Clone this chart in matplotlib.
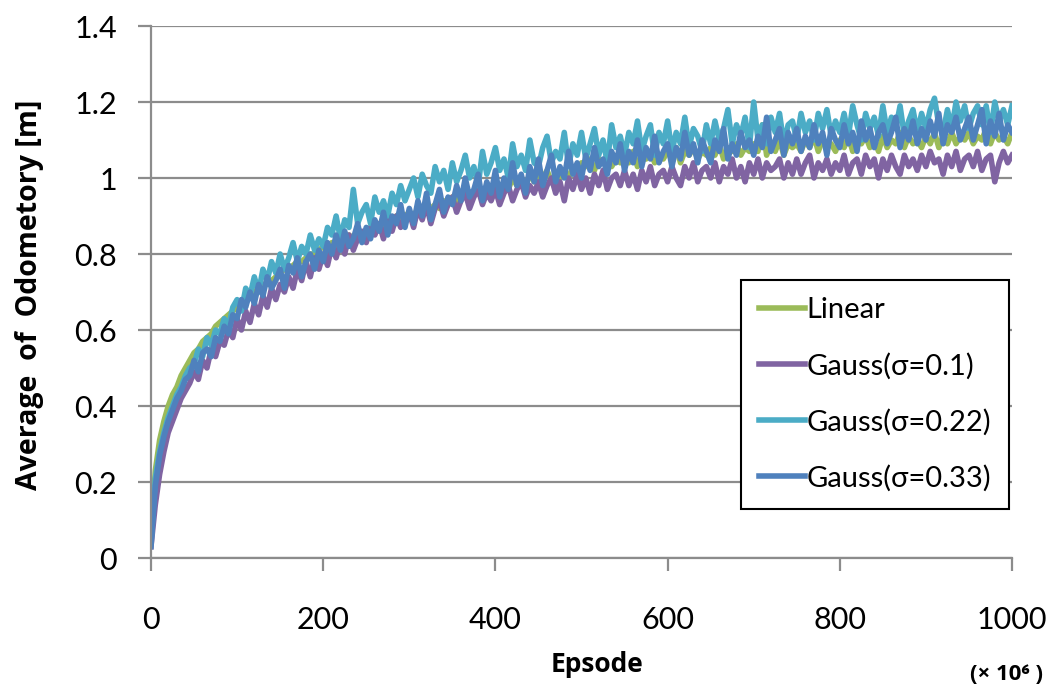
import matplotlib
matplotlib.use("Agg")
import matplotlib.pyplot as plt

plt.rcParams['font.family'] = ['Lato', 'DejaVu Sans']

episodes = list(range(0, 1001, 5))

linear = [
    0.05,0.23,0.31,0.36,0.40,0.43,0.45,0.48,0.50,0.52,
    0.54,0.55,0.57,0.58,0.59,0.61,0.62,0.63,0.64,0.65,
    0.66,0.67,0.68,0.69,0.70,0.71,0.72,0.72,0.73,0.74,
    0.75,0.76,0.76,0.77,0.78,0.78,0.79,0.80,0.80,0.81,
    0.82,0.81,0.83,0.82,0.84,0.83,0.85,0.84,0.86,0.85,
    0.86,0.87,0.86,0.88,0.87,0.89,0.88,0.90,0.89,0.90,
    0.91,0.90,0.92,0.91,0.93,0.92,0.93,0.92,0.94,0.93,
    0.95,0.94,0.95,0.96,0.94,0.96,0.97,0.95,0.97,0.96,
    0.98,0.97,0.99,0.97,1.00,0.98,1.00,0.98,1.01,0.99,
    1.01,1.00,1.02,0.99,1.01,1.00,1.02,1.00,1.03,1.01,
    1.04,1.03,1.05,1.02,1.05,1.04,1.06,1.03,1.05,1.04,
    1.06,1.04,1.07,1.03,1.06,1.05,1.07,1.04,1.06,1.05,
    1.07,1.05,1.08,1.04,1.07,1.06,1.08,1.05,1.07,1.06,
    1.08,1.06,1.09,1.05,1.08,1.07,1.09,1.06,1.08,1.07,
    1.09,1.07,1.14,1.06,1.09,1.07,1.10,1.06,1.09,1.08,
    1.09,1.07,1.10,1.08,1.11,1.07,1.10,1.08,1.09,1.07,
    1.10,1.08,1.11,1.07,1.10,1.09,1.11,1.08,1.10,1.07,
    1.11,1.08,1.10,1.09,1.12,1.08,1.11,1.09,1.10,1.08,
    1.11,1.09,1.12,1.08,1.11,1.09,1.12,1.09,1.11,1.10,
    1.12,1.09,1.11,1.10,1.13,1.09,1.12,1.10,1.11,1.09,
    1.12]

gauss_010 = [
    0.03,0.14,0.22,0.28,0.33,0.36,0.39,0.42,0.44,0.46,
    0.49,0.47,0.52,0.50,0.55,0.53,0.57,0.56,0.60,0.58,
    0.63,0.60,0.65,0.62,0.67,0.64,0.69,0.66,0.71,0.68,
    0.72,0.70,0.74,0.71,0.76,0.73,0.78,0.74,0.79,0.76,
    0.80,0.77,0.82,0.79,0.83,0.80,0.85,0.81,0.84,0.86,
    0.83,0.87,0.85,0.88,0.84,0.89,0.86,0.90,0.87,0.89,
    0.91,0.87,0.92,0.89,0.93,0.88,0.92,0.94,0.90,0.93,
    0.95,0.91,0.94,0.96,0.92,0.95,0.97,0.93,0.96,0.94,
    0.97,0.93,0.96,0.98,0.94,0.97,0.99,0.95,0.98,0.96,
    0.99,0.95,0.98,1.00,0.96,0.99,0.94,1.00,0.97,1.01,
    0.97,1.00,0.96,1.01,0.98,1.02,0.97,1.00,1.01,0.98,
    1.02,0.98,1.01,0.97,1.02,0.99,1.03,0.98,1.01,1.02,
    0.99,1.03,1.00,0.98,1.03,1.00,1.04,0.99,1.02,1.03,
    1.00,1.04,0.99,1.03,1.01,1.05,1.00,1.03,0.99,1.04,
    1.01,1.05,1.00,1.04,1.02,1.03,1.05,1.00,1.04,1.01,
    1.05,1.01,1.04,1.06,1.00,1.04,1.02,1.05,1.01,1.04,
    1.02,1.06,1.01,1.04,1.05,1.01,1.06,1.03,1.05,1.00,
    1.05,1.02,1.06,1.03,1.01,1.06,1.03,1.05,1.02,1.06,
    1.03,1.07,1.04,1.05,1.01,1.06,1.03,1.07,1.02,1.05,
    1.06,1.03,1.07,1.02,1.05,1.06,0.99,1.04,1.07,1.04,
    1.06]

gauss_022 = [
    0.04,0.21,0.28,0.33,0.37,0.40,0.43,0.45,0.48,0.50,
    0.51,0.55,0.53,0.58,0.56,0.60,0.59,0.63,0.61,0.66,
    0.68,0.65,0.71,0.69,0.74,0.70,0.76,0.73,0.78,0.75,
    0.80,0.76,0.79,0.83,0.78,0.82,0.80,0.85,0.81,0.84,
    0.82,0.87,0.85,0.90,0.84,0.89,0.87,0.97,0.88,0.91,
    0.93,0.88,0.95,0.91,0.94,0.90,0.96,0.93,0.98,0.94,
    0.97,1.00,0.95,1.01,0.98,0.96,1.03,0.99,1.02,0.97,
    1.04,0.99,1.02,1.06,1.00,1.03,0.98,1.07,1.01,1.04,
    1.08,1.02,1.05,1.00,1.09,1.03,1.06,1.02,1.10,1.04,
    1.03,1.08,1.11,1.04,1.07,1.05,1.12,1.03,1.09,1.06,
    1.12,1.05,1.09,1.13,1.06,1.10,1.04,1.14,1.08,1.11,
    1.06,1.12,1.09,1.15,1.07,1.11,1.14,1.06,1.12,1.09,
    1.15,1.07,1.12,1.09,1.16,1.08,1.13,1.11,1.07,1.14,
    1.09,1.15,1.10,1.13,1.18,1.09,1.14,1.11,1.16,1.08,
    1.20,1.10,1.14,1.09,1.16,1.12,1.17,1.09,1.14,1.15,
    1.10,1.17,1.12,1.15,1.10,1.17,1.13,1.18,1.11,1.15,
    1.12,1.17,1.11,1.19,1.14,1.10,1.17,1.13,1.16,1.11,
    1.19,1.12,1.16,1.13,1.19,1.11,1.15,1.18,1.12,1.17,
    1.13,1.18,1.21,1.14,1.12,1.18,1.13,1.20,1.15,1.19,
    1.13,1.17,1.19,1.14,1.19,1.12,1.20,1.15,1.18,1.14,
    1.19]

gauss_033 = [
    0.03,0.19,0.27,0.32,0.36,0.39,0.42,0.44,0.47,0.48,
    0.52,0.49,0.54,0.55,0.53,0.58,0.57,0.61,0.59,0.64,
    0.63,0.68,0.66,0.70,0.67,0.72,0.69,0.74,0.71,0.73,
    0.76,0.71,0.77,0.75,0.79,0.74,0.78,0.80,0.76,0.81,
    0.78,0.83,0.80,0.85,0.81,0.86,0.82,0.84,0.88,0.83,
    0.87,0.84,0.89,0.86,0.91,0.85,0.90,0.88,0.93,0.87,
    0.92,0.88,0.94,0.90,0.96,0.89,0.93,0.97,0.91,0.95,
    0.93,0.98,0.94,1.00,0.95,0.97,1.01,0.94,0.99,0.96,
    1.02,0.95,1.00,0.97,1.04,0.98,1.01,0.96,1.03,0.99,
    1.05,0.98,1.02,1.06,0.99,1.03,1.00,1.07,1.01,1.04,
    1.00,1.06,1.02,1.08,1.03,1.05,1.01,1.07,1.04,1.09,
    1.02,1.07,1.04,1.10,1.03,1.08,1.05,1.11,1.04,1.07,
    1.09,1.03,1.08,1.05,1.12,1.06,1.09,1.04,1.10,1.07,
    1.04,1.10,1.07,1.13,1.05,1.09,1.06,1.12,1.08,1.10,
    1.06,1.11,1.08,1.16,1.07,1.10,1.13,1.06,1.12,1.09,
    1.13,1.07,1.11,1.08,1.14,1.09,1.12,1.06,1.13,1.10,
    1.08,1.14,1.09,1.12,1.07,1.15,1.10,1.13,1.08,1.12,
    1.14,1.09,1.12,1.16,1.08,1.13,1.10,1.15,1.09,1.13,
    1.10,1.15,1.11,1.17,1.09,1.14,1.12,1.16,1.10,1.13,
    1.16,1.10,1.14,1.18,1.09,1.15,1.11,1.17,1.10,1.14,
    1.12]

series = [
    ("Linear", linear, "#9BBB59"),
    ("Gauss(σ=0.1)", gauss_010, "#8064A2"),
    ("Gauss(σ=0.22)", gauss_022, "#4BACC6"),
    ("Gauss(σ=0.33)", gauss_033, "#4F81BD"),
]

yticks = [0, 0.2, 0.4, 0.6, 0.8, 1.0, 1.2, 1.4]
yticklabels = ["0", "0.2", "0.4", "0.6", "0.8", "1", "1.2", "1.4"]
xticks = [0, 200, 400, 600, 800, 1000]

fig = plt.figure(figsize=(10.54, 6.92), dpi=100)
ax = fig.add_axes([151/1054, 1 - 558/692, (1012 - 151)/1054, (558 - 26)/692])

for name, vals, col in series:
    ax.plot(episodes, vals, color=col, lw=4.0, label=name, solid_joinstyle='round')

grid_col = "#8C8C8C"
ax.set_xlim(0, 1000)
ax.set_ylim(0, 1.4)
ax.set_yticks(yticks)
ax.set_yticklabels(yticklabels)
ax.set_xticks(xticks)
ax.grid(axis='y', color=grid_col, lw=1.6)
ax.set_axisbelow(True)
for s in ['top', 'right']:
    ax.spines[s].set_visible(False)
for s in ['left', 'bottom']:
    ax.spines[s].set_color(grid_col)
    ax.spines[s].set_linewidth(1.6)
ax.tick_params(axis='both', colors=grid_col, width=1.6, length=9.5, labelsize=22,
               labelcolor='black')
ax.tick_params(axis='y', pad=15)
ax.tick_params(axis='x', pad=25)

bold_fam = ['Open Sans', 'DejaVu Sans']
fig.text(30/1054, 1 - 295/692, "Average  of  Odometory [m]", rotation=90,
         fontsize=20.5, fontweight='bold', family=bold_fam, ha='center', va='center')
fig.text(597/1054, 1 - 665/692, "Epsode", fontsize=19, fontweight='bold',
         family=bold_fam, ha='center', va='center')
fig.text(1006/1054, 1 - 675/692, "(× 10⁶ )", fontsize=16, fontweight='bold',
         family=bold_fam, ha='center', va='center')

leg = fig.legend(loc='upper left', bbox_to_anchor=(741/1054, 1 - 280/692),
                 bbox_transform=fig.transFigure, fontsize=21, frameon=True,
                 fancybox=False, edgecolor='black', handlelength=1.6,
                 handletextpad=0.05, labelspacing=1.0, borderpad=0.6,
                 borderaxespad=0)
leg.get_frame().set_linewidth(1.5)
leg.get_frame().set_alpha(1)
for h in leg.get_lines():
    h.set_linewidth(4)

fig.savefig("out.png", dpi=100)
